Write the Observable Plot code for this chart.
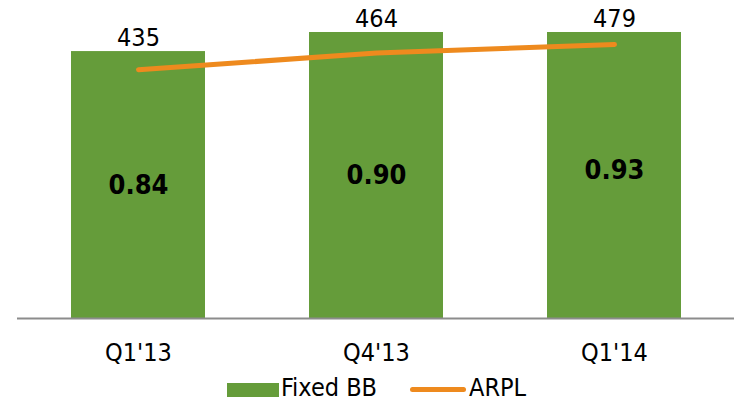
<!DOCTYPE html>
<html>
<head>
<meta charset="utf-8">
<script src="https://cdn.jsdelivr.net/npm/d3@7"></script>
<script src="https://cdn.jsdelivr.net/npm/@observablehq/plot@0.6"></script>
<style>
  body { margin: 0; background: #fff; font-family: "DejaVu Sans Condensed", "DejaVu Sans", sans-serif; font-stretch: condensed; }
  #wrap { position: relative; width: 734px; height: 404px; }
  #legend { position: absolute; left: 0; top: 374px; width: 734px; height: 30px; font-size: 25px; color: #000; }
  .sw { position: absolute; }
</style>
</head>
<body>
<div id="wrap">
  <div id="chart"></div>
  <div id="legend">
    <div class="sw" style="left:227px;top:9px;width:52px;height:14px;background:#659c3a"></div>
    <div class="sw" style="left:281px;top:0px;line-height:28px">Fixed BB</div>
    <div class="sw" style="left:410px;top:13px;width:56px;height:5px;border-radius:3px;background:#ee8a1e"></div>
    <div class="sw" style="left:469px;top:0px;line-height:28px">ARPL</div>
  </div>
</div>
<script>
const quarters = ["Q1'13", "Q4'13", "Q1'14"];
const fixedBB = [0.84, 0.90, 0.93];
const arpl = [435, 464, 479];

const yMax = 0.9;       // primary axis max (bars)
const arplMax = 500;    // secondary axis max (ARPL)

const data = quarters.map((q, i) => ({q, bb: fixedBB[i], arpl: arpl[i]}));

const chart = Plot.plot({
  width: 734,
  height: 370,
  marginLeft: 17,
  marginRight: 0,
  marginTop: 32,
  marginBottom: 52,
  style: {fontFamily: "'DejaVu Sans Condensed', 'DejaVu Sans', sans-serif", fontStretch: "condensed", fontSize: "25px", color: "#000", background: "#fff"},
  x: {domain: quarters, paddingInner: 0.438, paddingOuter: 0.222, label: null},
  y: {domain: [0, yMax], axis: null},
  marks: [
    Plot.barY(data, {x: "q", y: "bb", fill: "#659c3a", clip: true}),
    Plot.ruleY([0], {stroke: "#8c8c8c", strokeWidth: 2}),
    Plot.line(data, {x: "q", y: d => d.arpl / arplMax * yMax, stroke: "#ee8a1e", strokeWidth: 5, strokeLinecap: "round"}),
    Plot.text(data, {x: "q", y: d => d.bb / 2, text: d => d.bb.toFixed(2), fontWeight: "bold", fontSize: 27, fill: "#000"}),
    Plot.text(data, {x: "q", y: d => Math.min(d.bb, yMax), text: d => String(d.arpl), dy: -14, fontSize: 25, fill: "#000"}),
    Plot.axisX({tickSize: 0, tickPadding: 25, fontSize: 25, label: null})
  ]
});
document.getElementById("chart").appendChild(chart);
</script>
</body>
</html>
